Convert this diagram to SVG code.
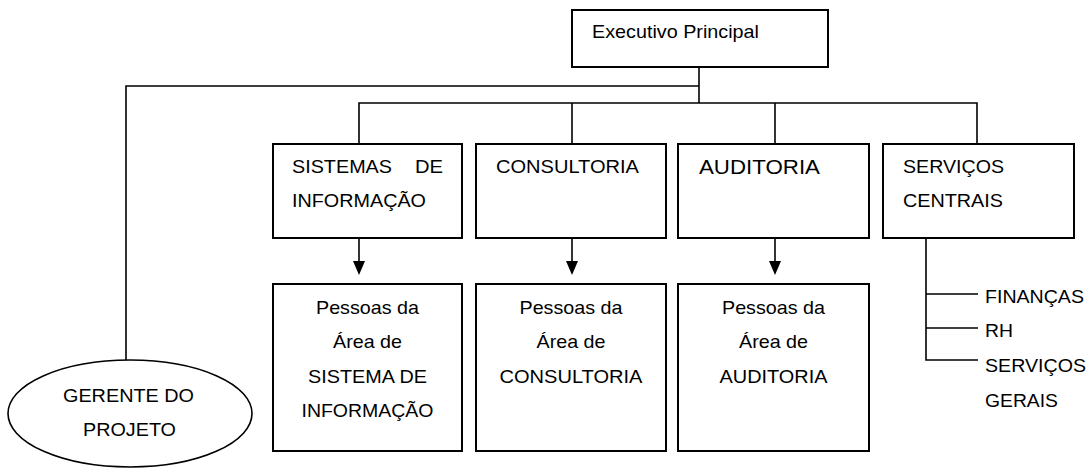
<svg xmlns="http://www.w3.org/2000/svg" width="1091" height="470" viewBox="0 0 1091 470">
<style>
.box{fill:#fff;stroke:#000;stroke-width:2}
.ln{fill:none;stroke:#000;stroke-width:1.6}
text{font-family:"Liberation Sans",Arial,sans-serif;font-size:18.5px;fill:#000}
.c{text-anchor:middle}
</style>
<defs>
<marker id="ah" viewBox="0 0 12 14" refX="6" refY="14" markerWidth="12" markerHeight="14" markerUnits="userSpaceOnUse" orient="auto-start-reverse">
<path d="M0,0 L12,0 L6,14 Z" fill="#000"/>
</marker>
</defs>
<g id="connectors">
<path class="ln" d="M699,67 V103"/>
<path class="ln" d="M699,86 H126 V360"/>
<path class="ln" d="M359,144 V103 H977 V144"/>
<path class="ln" d="M572,103 V144"/>
<path class="ln" d="M775,103 V144"/>
<line class="ln" x1="359" y1="238" x2="359" y2="261"/>
<line class="ln" x1="572" y1="238" x2="572" y2="261"/>
<line class="ln" x1="775" y1="238" x2="775" y2="261"/>
<path d="M353,261 H365 L359,275 Z M566,261 H578 L572,275 Z M769,261 H781 L775,275 Z" fill="#000"/>
<path class="ln" d="M926,238 V360 H978 M926,294 H978 M926,328 H978"/>
</g>
<g id="exec">
<rect class="box" x="572" y="10" width="256" height="57"/>
<text x="592" y="38" textLength="167" lengthAdjust="spacingAndGlyphs">Executivo Principal</text>
</g>
<g id="sistemas">
<rect class="box" x="273" y="144" width="189" height="94"/>
<text x="292" y="173" textLength="100" lengthAdjust="spacingAndGlyphs">SISTEMAS</text>
<text x="415" y="173" textLength="28" lengthAdjust="spacingAndGlyphs">DE</text>
<text x="292" y="207" textLength="134" lengthAdjust="spacingAndGlyphs">INFORMAÇÃO</text>
</g>
<g id="consultoria">
<rect class="box" x="476" y="144" width="190" height="94"/>
<text x="496" y="173" textLength="143" lengthAdjust="spacingAndGlyphs">CONSULTORIA</text>
</g>
<g id="auditoria">
<rect class="box" x="678" y="144" width="191" height="94"/>
<text x="699" y="174" style="font-size:21px" textLength="121" lengthAdjust="spacingAndGlyphs">AUDITORIA</text>
</g>
<g id="servicos">
<rect class="box" x="883" y="144" width="191" height="94"/>
<text x="903" y="173" textLength="101" lengthAdjust="spacingAndGlyphs">SERVIÇOS</text>
<text x="903" y="207" textLength="100" lengthAdjust="spacingAndGlyphs">CENTRAIS</text>
</g>
<g id="pessoas-si">
<rect class="box" x="273" y="284" width="189" height="167"/>
<text class="c" x="367.5" y="314" textLength="103" lengthAdjust="spacingAndGlyphs">Pessoas da</text>
<text class="c" x="367.5" y="348" textLength="69" lengthAdjust="spacingAndGlyphs">Área de</text>
<text class="c" x="367.5" y="383" textLength="119" lengthAdjust="spacingAndGlyphs">SISTEMA DE</text>
<text class="c" x="367.5" y="417" textLength="132" lengthAdjust="spacingAndGlyphs">INFORMAÇÃO</text>
</g>
<g id="pessoas-cons">
<rect class="box" x="476" y="284" width="190" height="167"/>
<text class="c" x="571" y="314" textLength="103" lengthAdjust="spacingAndGlyphs">Pessoas da</text>
<text class="c" x="571" y="348" textLength="69" lengthAdjust="spacingAndGlyphs">Área de</text>
<text class="c" x="571" y="383" textLength="143" lengthAdjust="spacingAndGlyphs">CONSULTORIA</text>
</g>
<g id="pessoas-aud">
<rect class="box" x="678" y="284" width="191" height="167"/>
<text class="c" x="773.5" y="314" textLength="103" lengthAdjust="spacingAndGlyphs">Pessoas da</text>
<text class="c" x="773.5" y="348" textLength="69" lengthAdjust="spacingAndGlyphs">Área de</text>
<text class="c" x="773.5" y="383" textLength="108" lengthAdjust="spacingAndGlyphs">AUDITORIA</text>
</g>
<g id="sub-servicos">
<text x="985" y="303" textLength="99" lengthAdjust="spacingAndGlyphs">FINANÇAS</text>
<text x="985" y="337" textLength="28" lengthAdjust="spacingAndGlyphs">RH</text>
<text x="985" y="372" textLength="101" lengthAdjust="spacingAndGlyphs">SERVIÇOS</text>
<text x="985" y="407" textLength="73" lengthAdjust="spacingAndGlyphs">GERAIS</text>
</g>
<g id="gerente">
<ellipse cx="130" cy="413.5" rx="122" ry="53.5" fill="#fff" stroke="#000" stroke-width="1.6"/>
<text x="63" y="402" textLength="131" lengthAdjust="spacingAndGlyphs">GERENTE DO</text>
<text x="83" y="436" textLength="93" lengthAdjust="spacingAndGlyphs">PROJETO</text>
</g>
</svg>
